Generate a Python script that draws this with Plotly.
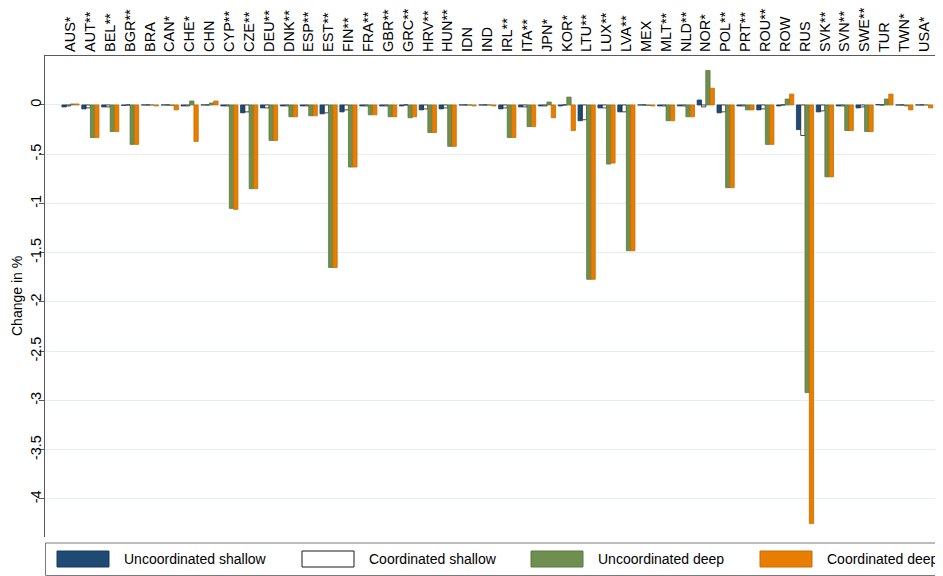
import plotly.graph_objects as go

countries = ["AUS*", "AUT**", "BEL**", "BGR**", "BRA", "CAN*", "CHE*", "CHN", "CYP**", "CZE**",
             "DEU**", "DNK**", "ESP**", "EST**", "FIN**", "FRA**", "GBR**", "GRC**", "HRV**", "HUN**",
             "IDN", "IND", "IRL**", "ITA**", "JPN*", "KOR*", "LTU**", "LUX**", "LVA**", "MEX",
             "MLT**", "NLD**", "NOR*", "POL**", "PRT**", "ROU**", "ROW", "RUS", "SVK**", "SVN**",
             "SWE**", "TUR", "TWN*", "USA*"]

uncoord_shallow = [-0.02, -0.04, -0.02, -0.005, 0.0, 0.0, -0.01, 0.0, -0.01, -0.08,
                   -0.03, -0.01, -0.01, -0.09, -0.07, -0.01, -0.01, -0.01, -0.05, -0.04,
                   0.0, 0.0, -0.04, -0.02, -0.01, -0.01, -0.16, -0.03, -0.07, 0.0,
                   -0.01, -0.01, 0.05, -0.08, -0.01, -0.05, -0.01, -0.25, -0.07, -0.01,
                   -0.03, 0.005, 0.0, 0.0]
coord_shallow = [-0.01, -0.03, -0.02, 0.0, 0.0, 0.0, -0.01, 0.0, -0.01, -0.07,
                 -0.03, -0.01, -0.01, -0.08, -0.05, -0.01, -0.01, 0.0, -0.04, -0.03,
                 0.0, 0.0, -0.03, -0.02, -0.01, 0.0, -0.15, -0.03, -0.07, 0.0,
                 -0.01, -0.01, -0.02, -0.07, -0.01, -0.04, 0.0, -0.31, -0.06, -0.01,
                 -0.02, 0.0, 0.0, 0.0]
uncoord_deep = [0.01, -0.33, -0.27, -0.40, 0.0, -0.005, 0.04, 0.02, -1.05, -0.85,
                -0.36, -0.12, -0.11, -1.65, -0.63, -0.10, -0.12, -0.13, -0.28, -0.42,
                0.0, 0.0, -0.33, -0.22, 0.03, 0.08, -1.77, -0.60, -1.48, -0.005,
                -0.16, -0.12, 0.35, -0.84, -0.05, -0.40, 0.06, -2.92, -0.73, -0.26,
                -0.27, 0.06, -0.01, 0.0]
coord_deep = [0.01, -0.33, -0.27, -0.40, -0.01, -0.05, -0.37, 0.04, -1.06, -0.85,
              -0.36, -0.12, -0.11, -1.65, -0.63, -0.10, -0.12, -0.12, -0.28, -0.42,
              -0.01, -0.01, -0.33, -0.22, -0.13, -0.26, -1.77, -0.59, -1.48, -0.01,
              -0.16, -0.12, 0.17, -0.84, -0.05, -0.40, 0.11, -4.25, -0.73, -0.26,
              -0.27, 0.11, -0.05, -0.03]

series_names = ["Uncoordinated shallow", "Coordinated shallow", "Uncoordinated deep", "Coordinated deep"]
series_values = [uncoord_shallow, coord_shallow, uncoord_deep, coord_deep]
fill_colors = ["#1f4a73", "#ffffff", "#6e8f50", "#e77e00"]
line_colors = ["#163a5c", "#1a1a1a", "#587a3e", "#c96d00"]

ytick_vals = [0, -0.5, -1, -1.5, -2, -2.5, -3, -3.5, -4]
ytick_text = ["0", "-.5", "-1", "-1.5", "-2", "-2.5", "-3", "-3.5", "-4"]

OFF = 8  # page body margin
W, H = 943 - OFF, 576 - OFF
L, T, B = 45 - OFF, 56 - OFF, 39
R = 0
PW = W - L - R
PH = H - T - B
FONT = "Liberation Sans, Arial, Helvetica, sans-serif"
FS = 14.5

fig = go.Figure()
for name, vals, fc, lc in zip(series_names, series_values, fill_colors, line_colors):
    fig.add_trace(go.Bar(x=countries, y=vals, name=name,
                         marker=dict(color=fc, line=dict(color=lc, width=0.8)),
                         showlegend=False))


def px_x(px):
    return (px - OFF - L) / PW


def px_y(py):
    return (H - B - (py - OFF)) / PH


shapes = []
annotations = []
# legend box
shapes.append(dict(type="rect", xref="paper", yref="paper",
                   x0=px_x(45.5), x1=px_x(960), y0=px_y(543), y1=px_y(575.5),
                   line=dict(color="#7a7a7a", width=1), fillcolor="white"))
key_x = [57, 302, 531, 760]
for kx, name, fc, lc in zip(key_x, series_names, fill_colors, line_colors):
    shapes.append(dict(type="rect", xref="paper", yref="paper",
                       x0=px_x(kx), x1=px_x(kx + 52), y0=px_y(551), y1=px_y(567),
                       line=dict(color=lc, width=1), fillcolor=fc))
    annotations.append(dict(text=name, xref="paper", yref="paper",
                            x=px_x(kx + 65), y=px_y(559), xanchor="left", yanchor="middle",
                            showarrow=False, font=dict(size=14, color="#000", family=FONT)))

annotations.append(dict(text="Change in %", xref="paper", yref="paper",
                        x=px_x(16.5), y=0.5, xanchor="center", yanchor="middle",
                        textangle=-90, showarrow=False,
                        font=dict(size=14, color="#000", family=FONT)))

fig.update_layout(
    width=W, height=H,
    margin=dict(l=L, r=R, t=T, b=B, pad=0),
    paper_bgcolor="white", plot_bgcolor="white",
    barmode="group", bargap=0.133, bargroupgap=0,
    font=dict(family=FONT, size=FS, color="#000"),
    shapes=shapes, annotations=annotations,
    showlegend=False,
)
fig.update_xaxes(side="top", type="category", tickangle=-90, range=[-1.285, 43.95],
                 showline=True, linecolor="#5a5a5a", linewidth=1.2, ticks="",
                 showgrid=False, tickfont=dict(size=FS, color="#000", family=FONT),
                 automargin=False)
fig.update_yaxes(range=[-4.386, 0.497], tickvals=ytick_vals, ticktext=ytick_text,
                 tickangle=-90, ticks="outside", ticklen=5, tickcolor="#5a5a5a",
                 ticklabelstandoff=-8,
                 showline=True, linecolor="#5a5a5a", linewidth=1.2,
                 showgrid=True, gridcolor="#e6edef", gridwidth=1, zeroline=False,
                 tickfont=dict(size=FS, color="#000", family=FONT), automargin=False)

fig.write_html("out.html")
